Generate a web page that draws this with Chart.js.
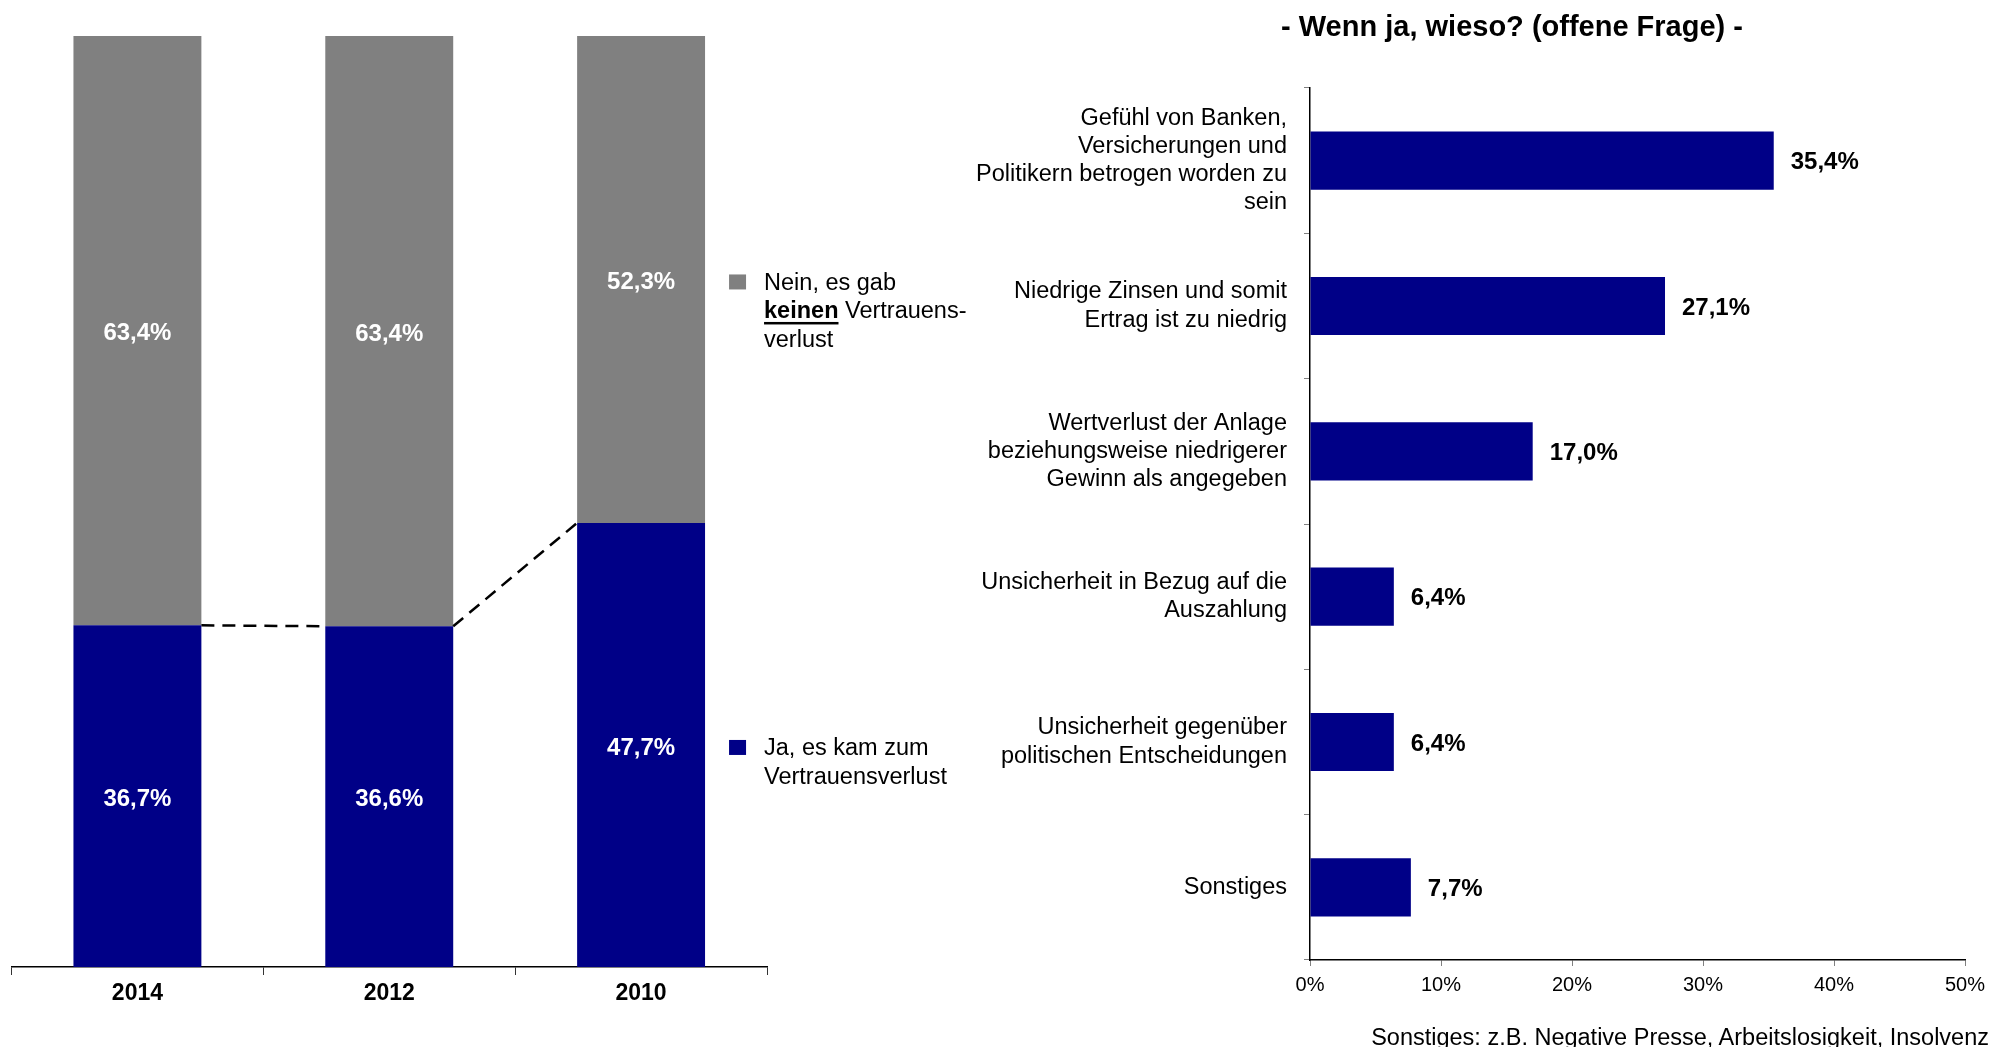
<!DOCTYPE html>
<html lang="de">
<head>
<meta charset="utf-8">
<title>Vertrauensverlust</title>
<script src="https://cdn.jsdelivr.net/npm/chart.js@4.4.1/dist/chart.umd.min.js"></script>
<style>
    html, body { margin: 0; padding: 0; background: #fff; }
    body { position: relative; width: 1993px; height: 1047px; overflow: hidden; font-family: 'Liberation Sans', Arial, sans-serif; color: #000; }
    #links { position: absolute; left: 0; top: 0; }
    #rechts { position: absolute; left: 960px; top: 0; }
    .titel { position: absolute; left: 1512px; top: 26px; transform: translate(-50%, -50%); font-weight: bold; font-size: 29px; white-space: nowrap; }
    .fussnote { position: absolute; right: 4px; top: 1037px; transform: translateY(-50%); font-size: 23.5px; white-space: nowrap; }
</style>
</head>
<body>
<canvas id="links" width="1000" height="1047"></canvas>
<canvas id="rechts" width="1033" height="1047"></canvas>
<div class="titel">- Wenn ja, wieso? (offene Frage) -</div>
<div class="fussnote">Sonstiges: z.B. Negative Presse, Arbeitslosigkeit, Insolvenz</div>
<script>
// Daten linkes Diagramm
const jahre = ['2014', '2012', '2010'];
const jaWerte = [36.7, 36.6, 47.7];
const neinWerte = [63.4, 63.4, 52.3];
const legendeJa = [[{ text: 'Ja, es kam zum' }], [{ text: 'Vertrauensverlust' }]];
const legendeNein = [
    [{ text: 'Nein, es gab' }],
    [{ text: 'keinen', bold: true, underline: true }, { text: ' Vertrauens-' }],
    [{ text: 'verlust' }]
];

// Daten rechtes Diagramm
const gruende = [
    ['Gefühl von Banken,', 'Versicherungen und', 'Politikern betrogen worden zu', 'sein'],
    ['Niedrige Zinsen und somit', 'Ertrag ist zu niedrig'],
    ['Wertverlust der Anlage', 'beziehungsweise niedrigerer', 'Gewinn als angegeben'],
    ['Unsicherheit in Bezug auf die', 'Auszahlung'],
    ['Unsicherheit gegenüber', 'politischen Entscheidungen'],
    ['Sonstiges']
];
const gruendeWerte = [35.4, 27.1, 17.0, 6.4, 6.4, 7.7];
const xMax = 50;
const xSchritt = 10;

const BLAU = '#000087';
const GRAU = '#808080';
const SCHRIFT = "'Liberation Sans', Arial, sans-serif";

Chart.defaults.font.family = SCHRIFT;
Chart.defaults.color = '#000';

function prozent(v) {
    return v.toFixed(1).replace('.', ',') + '%';
}

// Werte in den Segmenten
const segmentLabels = {
    id: 'segmentLabels',
    afterDatasetsDraw(chart) {
        const ctx = chart.ctx;
        ctx.save();
        ctx.font = 'bold 24px ' + SCHRIFT;
        ctx.fillStyle = '#fff';
        ctx.textAlign = 'center';
        ctx.textBaseline = 'middle';
        chart.data.datasets.forEach((ds, i) => {
            chart.getDatasetMeta(i).data.forEach((el, j) => {
                ctx.fillText(prozent(ds.data[j]), el.x, (el.y + el.base) / 2 + 3);
            });
        });
        ctx.restore();
    }
};

// Gestrichelte Verbindungslinien zwischen den blauen Balken
const verbinder = {
    id: 'verbinder',
    afterDatasetsDraw(chart) {
        const ctx = chart.ctx;
        const els = chart.getDatasetMeta(0).data;
        ctx.save();
        ctx.strokeStyle = '#000';
        ctx.lineWidth = 2.5;
        ctx.setLineDash([13, 8]);
        for (let i = 0; i < els.length - 1; i++) {
            const a = els[i], b = els[i + 1];
            ctx.beginPath();
            ctx.moveTo(a.x + a.width / 2, a.y);
            ctx.lineTo(b.x - b.width / 2, b.y);
            ctx.stroke();
        }
        ctx.restore();
    }
};

// Legende neben dem letzten Balken
const legende = {
    id: 'legende',
    afterDraw(chart) {
        const ctx = chart.ctx;
        const eintraege = [
            { zeilen: legendeJa, farbe: BLAU, meta: chart.getDatasetMeta(0) },
            { zeilen: legendeNein, farbe: GRAU, meta: chart.getDatasetMeta(1) }
        ];
        ctx.save();
        ctx.textBaseline = 'middle';
        ctx.textAlign = 'left';
        eintraege.forEach(e => {
            const el = e.meta.data[e.meta.data.length - 1];
            const y0 = (el.y + el.base) / 2 + 2;
            const xq = el.x + el.width / 2 + 24;
            ctx.fillStyle = e.farbe;
            ctx.fillRect(xq, y0 - 7, 17, 15);
            e.zeilen.forEach((zeile, k) => {
                let x = xq + 35;
                const y = y0 + 2 + k * 28.5;
                zeile.forEach(teil => {
                    ctx.font = (teil.bold ? 'bold ' : '') + '23.5px ' + SCHRIFT;
                    ctx.fillStyle = '#000';
                    ctx.fillText(teil.text, x, y);
                    const w = ctx.measureText(teil.text).width;
                    if (teil.underline) {
                        ctx.fillRect(x, y + 10, w, 2.5);
                    }
                    x += w;
                });
            });
        });
        ctx.restore();
    }
};

new Chart(document.getElementById('links'), {
    type: 'bar',
    data: {
        labels: jahre,
        datasets: [{
            label: 'Ja, es kam zum Vertrauensverlust',
            data: jaWerte,
            backgroundColor: BLAU,
            categoryPercentage: 1,
            barPercentage: 0.508
        }, {
            label: 'Nein, es gab keinen Vertrauensverlust',
            data: neinWerte,
            backgroundColor: GRAU,
            categoryPercentage: 1,
            barPercentage: 0.508
        }]
    },
    options: {
        responsive: false,
        animation: false,
        layout: { padding: { left: 11.5, right: 233, top: 36, bottom: 0 } },
        plugins: {
            legend: { display: false },
            tooltip: { enabled: false }
        },
        scales: {
            x: {
                stacked: true,
                grid: { drawOnChartArea: false, drawTicks: true, tickLength: 8, color: '#333', offset: true },
                border: { color: '#000', width: 1.5 },
                ticks: { font: { size: 23, weight: 'bold' }, padding: 5, color: '#000' },
                afterFit: s => { s.height = 80; }
            },
            y: {
                stacked: true,
                display: false,
                min: 0,
                max: 100
            }
        }
    },
    plugins: [segmentLabels, verbinder, legende]
});

// Werte rechts neben den Balken
const wertLabels = {
    id: 'wertLabels',
    afterDatasetsDraw(chart) {
        const ctx = chart.ctx;
        const ds = chart.data.datasets[0];
        ctx.save();
        ctx.font = 'bold 24px ' + SCHRIFT;
        ctx.fillStyle = '#000';
        ctx.textAlign = 'left';
        ctx.textBaseline = 'middle';
        chart.getDatasetMeta(0).data.forEach((el, j) => {
            ctx.fillText(prozent(ds.data[j]), el.x + 17, el.y + 2);
        });
        ctx.restore();
    }
};

new Chart(document.getElementById('rechts'), {
    type: 'bar',
    data: {
        labels: gruende,
        datasets: [{
            label: 'Wenn ja, wieso?',
            data: gruendeWerte,
            backgroundColor: BLAU,
            categoryPercentage: 1,
            barPercentage: 0.4
        }]
    },
    options: {
        indexAxis: 'y',
        responsive: false,
        animation: false,
        layout: { padding: { left: 0, right: 28, top: 88, bottom: 0 } },
        plugins: {
            legend: { display: false },
            tooltip: { enabled: false }
        },
        scales: {
            x: {
                min: 0,
                max: xMax,
                ticks: { stepSize: xSchritt, callback: v => v + '%', font: { size: 20 }, padding: 7, color: '#000' },
                grid: { drawOnChartArea: false, drawTicks: true, tickLength: 6, color: GRAU },
                border: { color: '#000', width: 1.5 },
                afterFit: s => { s.height = 87; }
            },
            y: {
                ticks: { font: { size: 23.5 }, padding: 17, color: '#000', autoSkip: false },
                grid: { drawOnChartArea: false, drawTicks: true, tickLength: 6, color: GRAU, offset: true },
                border: { color: '#000', width: 1.5 },
                afterFit: s => { s.width = 350; }
            }
        }
    },
    plugins: [wertLabels]
});
</script>
</body>
</html>
